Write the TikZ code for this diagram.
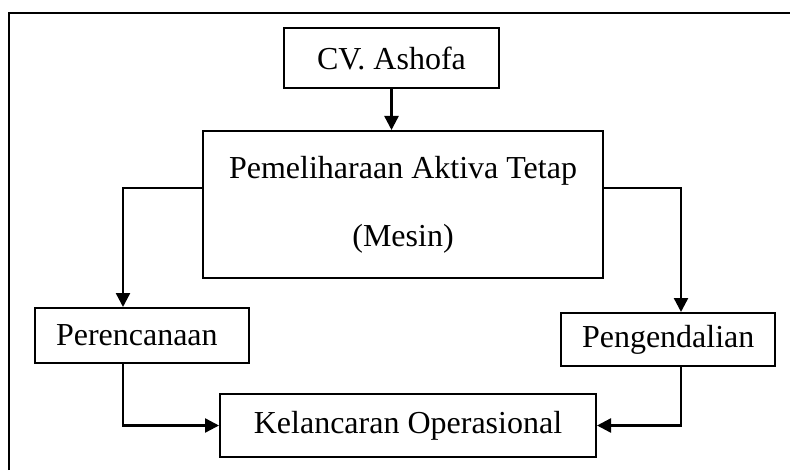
\documentclass[tikz,border=0pt]{standalone}
\usepackage{fontspec}
\setmainfont{Liberation Serif}
\usetikzlibrary{positioning,arrows.meta,calc}

\begin{document}
\begin{tikzpicture}[x=0.5pt,y=-0.5pt,
 frame/.style={line width=1pt,black},
 box/.style={draw,line width=1pt,inner sep=0pt,align=center,font=\fontsize{16}{34}\selectfont},
 sidebox/.style={box,align=left,text width=86pt,inner xsep=10.5pt},
 arr/.style={-{Triangle[length=7pt,width=7pt]},line width=1.2pt}]
\useasboundingbox (0,0) rectangle (790,470);
\draw[frame] (9,470)--(9,13)--(790,13);
% boxes
\node[box,minimum width=107.5pt,minimum height=30pt] (cv) at (391.5,58) {CV. Ashofa};
\node[box,minimum width=200pt,minimum height=73.5pt] (pem) at (403,204.5)
 {Pemeliharaan Aktiva Tetap\\(Mesin)};
\node[sidebox,minimum height=27.5pt] (per) at (142,335.5) {Perencanaan};
\node[sidebox,minimum height=26.5pt] (pen) at (668,339.5) {Pengendalian};
\node[box,minimum width=188pt,minimum height=31.5pt] (kel) at (408,425.5) {Kelancaran Operasional};
% connectors
\coordinate (lpath) at (123,188);
\coordinate (rpath) at (681,188);
\draw[arr] (cv.south)--(cv.south |- pem.north);
\draw[arr] (pem.west |- lpath) -| (per.north -| lpath);
\draw[arr] (pem.east |- rpath) -| (pen.north -| rpath);
\draw[arr] (per.south -| lpath) |- (kel.west);
\draw[arr] (pen.south -| rpath) |- (kel.east);
\end{tikzpicture}
\end{document}
